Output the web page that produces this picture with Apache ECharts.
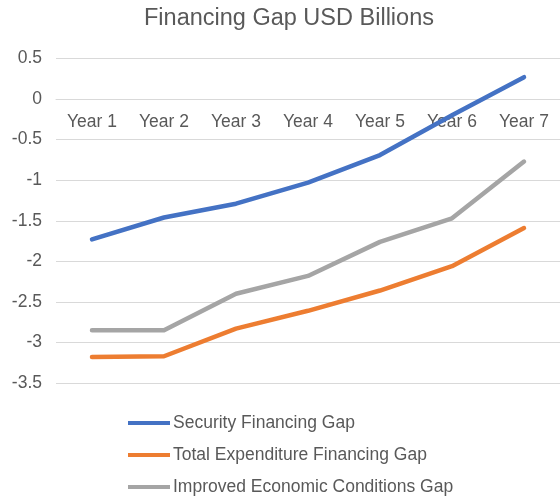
<!DOCTYPE html>
<html>
<head>
<meta charset="utf-8">
<script src="https://cdn.jsdelivr.net/npm/echarts@6/dist/echarts.min.js"></script>
<style>
  html, body { margin: 0; padding: 0; background: #fff; }
  #chart { width: 560px; height: 496px; }
</style>
</head>
<body>
<div id="chart"></div>
<script>
// Financing gap projections, USD billions
const years = ['Year 1', 'Year 2', 'Year 3', 'Year 4', 'Year 5', 'Year 6', 'Year 7'];
const securityGap = [-1.73, -1.46, -1.29, -1.03, -0.69, -0.20, 0.27];
const totalExpenditureGap = [-3.18, -3.17, -2.83, -2.61, -2.36, -2.06, -1.59];
const improvedConditionsGap = [-2.85, -2.85, -2.40, -2.18, -1.76, -1.47, -0.77];

const seriesNames = ['Security Financing Gap', 'Total Expenditure Financing Gap', 'Improved Economic Conditions Gap'];
const seriesColors = ['#4472C4', '#ED7D31', '#A5A5A5'];
const seriesValues = [securityGap, totalExpenditureGap, improvedConditionsGap];

const textColor = '#595959';
const fontFamily = 'Arial, "Liberation Sans", sans-serif';

// plot area geometry
const gridTop = 58.5;
const gridBottom = 113;
const chartHeight = 496;
const yMin = -3.5;
const yMax = 0.5;
// move the category axis up so it sits on the zero line
const plotHeight = chartHeight - gridTop - gridBottom;
const zeroOffset = -plotHeight * (0 - yMin) / (yMax - yMin);

const chart = echarts.init(document.getElementById('chart'), null, { renderer: 'canvas' });

chart.setOption({
  animation: false,
  backgroundColor: '#ffffff',
  title: {
    text: 'Financing Gap USD Billions',
    left: 139,
    top: 2,
    textStyle: { color: textColor, fontSize: 23.5, fontWeight: 'normal', fontFamily: fontFamily }
  },
  grid: { left: 56, right: 0, top: gridTop, bottom: gridBottom, containLabel: false },
  xAxis: {
    type: 'category',
    data: years,
    boundaryGap: true,
    offset: zeroOffset,
    axisLine: { show: true, onZero: false, lineStyle: { color: '#D9D9D9', width: 1 } },
    axisTick: { show: false },
    axisLabel: { color: textColor, fontSize: 17.5, fontFamily: fontFamily, margin: 14 }
  },
  yAxis: {
    type: 'value',
    min: yMin,
    max: yMax,
    interval: 0.5,
    axisLine: { show: false },
    axisTick: { show: false },
    splitLine: { lineStyle: { color: '#D9D9D9', width: 1 } },
    axisLabel: { color: textColor, fontSize: 17.5, fontFamily: fontFamily, margin: 14 }
  },
  legend: {
    orient: 'vertical',
    left: 128,
    top: 414,
    padding: 0,
    itemWidth: 42,
    itemHeight: 4,
    itemGap: 14,
    icon: 'rect',
    data: seriesNames,
    textStyle: { color: textColor, fontSize: 17.5, fontFamily: fontFamily, lineHeight: 18, padding: [0, 0, 0, -2] }
  },
  series: seriesNames.map((name, i) => ({
    name: name,
    type: 'line',
    data: seriesValues[i],
    symbol: 'none',
    smooth: false,
    color: seriesColors[i],
    lineStyle: { color: seriesColors[i], width: 4.5, cap: 'round', join: 'round' }
  }))
});
</script>
</body>
</html>
